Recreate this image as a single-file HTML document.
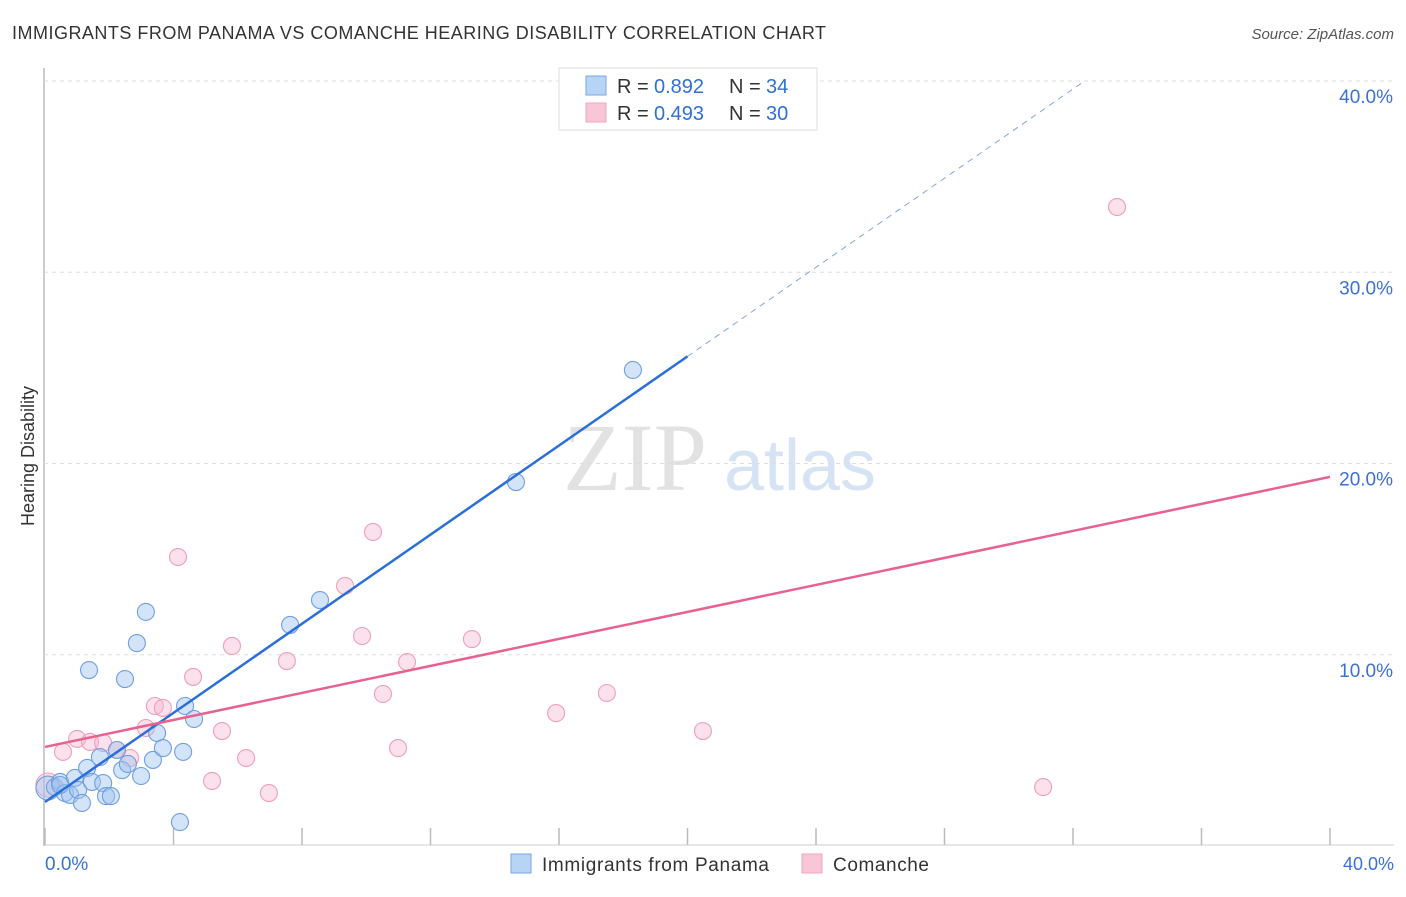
<!DOCTYPE html>
<html><head><meta charset="utf-8"><style>
body{margin:0;background:#fff;font-family:"Liberation Sans",sans-serif}
</style></head><body>
<svg id="c" width="1406" height="892" xmlns="http://www.w3.org/2000/svg">
<text x="12" y="39" font-size="18" fill="#333" textLength="814" lengthAdjust="spacing">IMMIGRANTS FROM PANAMA VS COMANCHE HEARING DISABILITY CORRELATION CHART</text>
<text x="1394" y="39" font-size="15" fill="#555" font-style="italic" text-anchor="end">Source: ZipAtlas.com</text>
<text x="635" y="490" font-size="96" fill="#e2e2e2" font-family="Liberation Serif" text-anchor="middle">ZIP</text>
<text x="800" y="490" font-size="72" fill="#d6e3f5" text-anchor="middle">atlas</text>
<text transform="translate(34,456) rotate(-90)" font-size="18" fill="#333" text-anchor="middle">Hearing Disability</text>
<g id="grid"></g><g id="pts"></g><g id="lines"></g>
<rect x="559" y="68" width="258" height="62" fill="#fff" stroke="#ddd"/>
<rect x="586" y="76" width="20" height="19" fill="#b8d4f5" stroke="#7aa6e0"/>
<rect x="586" y="103" width="20" height="19" fill="#f8c6d6" stroke="#eea6bd"/>
<g font-size="20" fill="#333">
<text x="617" y="93">R =</text>
<text x="654" y="93" fill="#2f6fd6">0.892</text>
<text x="729" y="93">N =</text>
<text x="766" y="93" fill="#2f6fd6">34</text>
<text x="617" y="120">R =</text>
<text x="654" y="120" fill="#2f6fd6">0.493</text>
<text x="729" y="120">N =</text>
<text x="766" y="120" fill="#2f6fd6">30</text>
</g>
<rect x="511" y="854" width="20" height="19" fill="#b8d4f5" stroke="#7aa6e0"/>
<text x="542" y="871" font-size="19" fill="#333" textLength="227">Immigrants from Panama</text>
<rect x="802" y="854" width="20" height="19" fill="#f8c6d6" stroke="#eea6bd"/>
<text x="833" y="871" font-size="19" fill="#333" textLength="96">Comanche</text>
<text x="45" y="870" font-size="19" fill="#3b70d6">0.0%</text>
<text x="1394" y="870" font-size="18" fill="#3b70d6" text-anchor="end">40.0%</text>
</svg>
<script>
const yTicks=[10,20,30,40];
const yTickLabels=["10.0%","20.0%","30.0%","40.0%"];
const panamaX=[0.09,0.31,0.47,0.62,0.78,0.93,1.03,1.15,1.31,1.46,1.71,1.81,1.90,2.05,2.24,2.40,2.58,2.99,3.36,3.49,3.67,4.30,4.36,4.64,4.20,1.37,2.49,2.86,3.14,7.63,8.56,14.66,18.30,0.47];
const panamaY=[3.03,3.08,3.35,2.77,2.67,3.56,2.93,2.25,4.08,3.35,4.65,3.29,2.61,2.61,5.02,3.97,4.29,3.66,4.50,5.91,5.12,4.92,7.32,6.64,1.25,9.20,8.73,10.61,12.24,11.56,12.86,19.03,24.89,3.19];
const comX=[0.09,0.56,1.0,1.4,1.81,2.24,2.65,3.14,3.42,3.67,4.14,4.61,5.2,5.51,5.82,6.26,6.97,7.53,9.34,9.87,10.21,10.52,10.99,11.27,13.29,15.91,17.49,20.48,31.07,33.37];
const comY=[3.19,4.92,5.6,5.44,5.39,5.02,4.6,6.17,7.32,7.22,15.11,8.84,3.4,6.01,10.46,4.6,2.77,9.67,13.6,10.98,16.42,7.95,5.12,9.62,10.82,6.95,8.0,6.01,3.08,33.41];
const panamaFit=[2.3,1.165];
const comFit=[5.18,0.353];
const NS="http://www.w3.org/2000/svg";
const X=v=>45+v*32.125, Y=v=>846-v*19.125;
function mk(t,a,p){const e=document.createElementNS(NS,t);for(const k in a)e.setAttribute(k,a[k]);document.getElementById(p).appendChild(e);return e;}
const g='grid';
let ax=mk('line',{x1:44,y1:68,x2:44,y2:846,stroke:'#bbb','stroke-width':1.5},g);


let bx=mk('line',{x1:44,y1:845,x2:1394,y2:845,stroke:'#ccc'},g);


for(let i=0;i<=10;i++){const t=mk('line',{x1:X(i*4),y1:828,x2:X(i*4),y2:845,stroke:'#bbb','stroke-width':1.5},g);

}
yTicks.forEach((v,i)=>{const l=mk('line',{x1:44,y1:Y(v),x2:1394,y2:Y(v),stroke:'#ddd','stroke-dasharray':'4,4'},g);


const t=mk('text',{x:1393,y:Y(v)+22,'font-size':19,fill:'#3b70d6','text-anchor':'end'},g);t.textContent=yTickLabels[i];

});
function dots(xs,ys,fill,stroke,name){xs.forEach((x,i)=>{const c=mk('circle',{cx:X(x),cy:Y(ys[i]),r:i==0?12:8.5,fill:fill,stroke:stroke,'stroke-width':1.1},'pts');

});}
dots(comX,comY,'rgba(246,180,204,0.4)','#ee9fb9','point-comanche');
dots(panamaX,panamaY,'rgba(160,196,240,0.45)','#6f9fe0','point-panama');
const f=(p,x)=>p[0]+p[1]*x;
let l1=mk('line',{x1:X(0),y1:Y(f(panamaFit,0)),x2:X(20),y2:Y(f(panamaFit,20)),stroke:'#2a6fd8','stroke-width':2.5},'lines');


let xe=(40-panamaFit[0])/panamaFit[1];
let l2=mk('line',{x1:X(20),y1:Y(f(panamaFit,20)),x2:X(xe),y2:Y(40),stroke:'#7fa6e0','stroke-width':1,'stroke-dasharray':'6,5'},'lines');


let l3=mk('line',{x1:X(0),y1:Y(f(comFit,0)),x2:X(40),y2:Y(f(comFit,40)),stroke:'#e8628d','stroke-width':2.5},'lines');


</script>
</body></html>
